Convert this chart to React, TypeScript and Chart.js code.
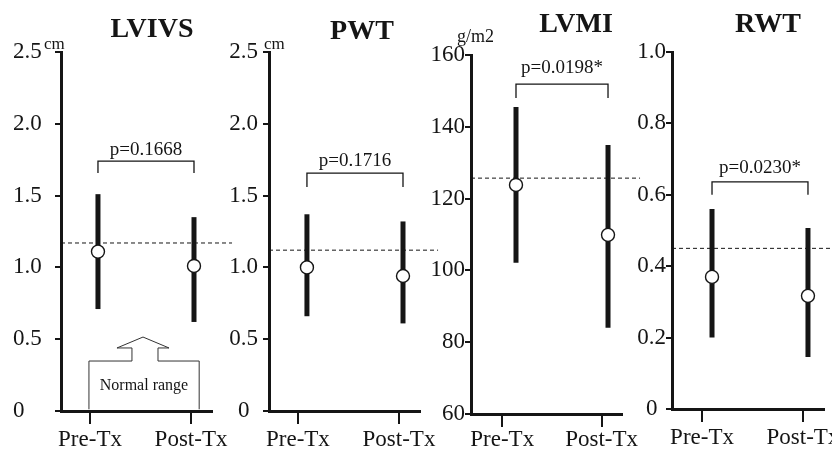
import React, { useEffect, useRef } from "react";
import { Chart, registerables } from "chart.js";
Chart.register(...registerables);

// ---------- data ----------
const CATEGORIES = ["Pre-Tx", "Post-Tx"];
const TITLES = ["LVIVS", "PWT", "LVMI", "RWT"];
const UNITS = ["cm", "cm", "g/m2", ""];
const P_VALUES = ["p=0.1668", "p=0.1716", "p=0.0198*", "p=0.0230*"];

const LVIVS_MEAN = [1.11, 1.01];
const LVIVS_UPPER = [1.51, 1.35];
const LVIVS_LOWER = [0.71, 0.62];

const PWT_MEAN = [1.0, 0.94];
const PWT_UPPER = [1.37, 1.32];
const PWT_LOWER = [0.66, 0.61];

const LVMI_MEAN = [123.8, 109.9];
const LVMI_UPPER = [145.5, 134.9];
const LVMI_LOWER = [102.1, 84.0];

const RWT_MEAN = [0.37, 0.317];
const RWT_UPPER = [0.56, 0.507];
const RWT_LOWER = [0.2, 0.146];

const NORMAL_LIMITS = [1.17, 1.12, 125.7, 0.45];

const Y_TICKS_CM = [0, 0.5, 1.0, 1.5, 2.0, 2.5];
const Y_LABELS_CM = ["0", "0.5", "1.0", "1.5", "2.0", "2.5"];
const Y_TICKS_LVMI = [60, 80, 100, 120, 140, 160];
const Y_LABELS_LVMI = ["60", "80", "100", "120", "140", "160"];
const Y_TICKS_RWT = [0, 0.2, 0.4, 0.6, 0.8, 1.0];
const Y_LABELS_RWT = ["0", "0.2", "0.4", "0.6", "0.8", "1.0"];

// bracket (value units of each panel's y axis)
const BRACKET_TOP = [1.74, 1.657, 151.9, 0.636];
const BRACKET_LEG = [1.657, 1.56, 148.0, 0.6];
const P_LABEL_Y = [1.785, 1.706, 155.0, 0.66];

// ---------- layout ----------
const W = 832;
const H = 453;
const FONT = "'Liberation Serif', 'Times New Roman', serif";
const INK = "#151515";

type PanelCfg = {
  idx: number;
  mean: number[];
  upper: number[];
  lower: number[];
  yTicks: number[];
  yLabels: string[];
  axisX: number;
  right: number;
  top: number;
  bottom: number;
  yWidth: number;
  xHeight: number;
  crossAlign: "near" | "center" | "far";
  yPad: number;
  xPad: number;
  xMin: number;
  xMax: number;
  dashEnd: number;
  tickPos: number[];
  titleX: number;
  titleY: number;
  unitX: number;
  unitY: number;
  unitSize: number;
  normalBox?: boolean;
};

const PANELS: PanelCfg[] = [
  {
    idx: 0, mean: LVIVS_MEAN, upper: LVIVS_UPPER, lower: LVIVS_LOWER,
    yTicks: Y_TICKS_CM, yLabels: Y_LABELS_CM,
    axisX: 61, right: 212, top: 52, bottom: 411, yWidth: 48, xHeight: 40,
    crossAlign: "far", yPad: 5, xPad: 2,
    xMin: -0.385, xMax: 1.1875, dashEnd: 1.396, tickPos: [-0.083, 0.969],
    titleX: 0.5625, titleY: 37, unitX: 44, unitY: 49, unitSize: 17, normalBox: true,
  },
  {
    idx: 1, mean: PWT_MEAN, upper: PWT_UPPER, lower: PWT_LOWER,
    yTicks: Y_TICKS_CM, yLabels: Y_LABELS_CM,
    axisX: 269, right: 420, top: 52, bottom: 411, yWidth: 60, xHeight: 40,
    crossAlign: "center", yPad: 5, xPad: 2,
    xMin: -0.395, xMax: 1.177, dashEnd: 1.365, tickPos: [-0.094, 0.958],
    titleX: 0.573, titleY: 39, unitX: 264, unitY: 49, unitSize: 17,
  },
  {
    idx: 2, mean: LVMI_MEAN, upper: LVMI_UPPER, lower: LVMI_LOWER,
    yTicks: Y_TICKS_LVMI, yLabels: Y_LABELS_LVMI,
    axisX: 471, right: 622, top: 55, bottom: 414, yWidth: 60, xHeight: 38,
    crossAlign: "near", yPad: 0, xPad: -1,
    xMin: -0.489, xMax: 1.152, dashEnd: 1.348, tickPos: [-0.15, 0.93],
    titleX: 0.652, titleY: 32, unitX: 457, unitY: 42, unitSize: 18,
  },
  {
    idx: 3, mean: RWT_MEAN, upper: RWT_UPPER, lower: RWT_LOWER,
    yTicks: Y_TICKS_RWT, yLabels: Y_LABELS_RWT,
    axisX: 672, right: 824, top: 52, bottom: 409, yWidth: 60, xHeight: 40,
    crossAlign: "center", yPad: 0, xPad: 2,
    xMin: -0.417, xMax: 1.167, dashEnd: 1.3, tickPos: [-0.104, 0.948],
    titleX: 0.583, titleY: 32, unitX: 0, unitY: 0, unitSize: 17,
  },
];

// "Normal range" callout in panel-1 value units
const NORMAL_BOX = {
  left: -0.094, right: 1.054, top: 0.348, bottom: 0.012,
  stemL: 0.354, stemR: 0.625, shoulderL: 0.198, shoulderR: 0.74,
  shoulderY: 0.439, apexX: 0.469, apexY: 0.515,
  textX: 0.479, textY: 0.174, label: "Normal range",
};

function makeAnnotations(cfg: PanelCfg) {
  return {
    id: "annot" + cfg.idx,
    afterDraw(chart: any) {
      const ctx = chart.ctx as CanvasRenderingContext2D;
      const xs = chart.scales.x;
      const ys = chart.scales.y;
      const i = cfg.idx;
      ctx.save();
      ctx.fillStyle = INK;
      ctx.strokeStyle = INK;
      // title
      ctx.font = `bold 28px ${FONT}`;
      ctx.textAlign = "center";
      ctx.textBaseline = "alphabetic";
      ctx.fillText(TITLES[i], xs.getPixelForValue(cfg.titleX), cfg.titleY);
      // unit
      if (UNITS[i]) {
        ctx.font = `${cfg.unitSize}px ${FONT}`;
        ctx.textAlign = "left";
        ctx.fillText(UNITS[i], cfg.unitX, cfg.unitY);
      }
      // bracket
      const x0 = xs.getPixelForValue(0);
      const x1 = xs.getPixelForValue(1);
      const yt = ys.getPixelForValue(BRACKET_TOP[i]);
      const yl = ys.getPixelForValue(BRACKET_LEG[i]);
      ctx.lineWidth = 1.3;
      ctx.beginPath();
      ctx.moveTo(x0, yl);
      ctx.lineTo(x0, yt);
      ctx.lineTo(x1, yt);
      ctx.lineTo(x1, yl);
      ctx.stroke();
      ctx.font = `19px ${FONT}`;
      ctx.textAlign = "center";
      ctx.fillText(P_VALUES[i], (x0 + x1) / 2, ys.getPixelForValue(P_LABEL_Y[i]));
      // normal range callout
      if (cfg.normalBox) {
        const b = NORMAL_BOX;
        const px = (v: number) => xs.getPixelForValue(v);
        const py = (v: number) => ys.getPixelForValue(v);
        ctx.lineWidth = 1;
        ctx.strokeStyle = "#333";
        ctx.beginPath();
        ctx.moveTo(px(b.left), py(b.bottom));
        ctx.lineTo(px(b.left), py(b.top));
        ctx.lineTo(px(b.stemL), py(b.top));
        ctx.lineTo(px(b.stemL), py(b.shoulderY));
        ctx.lineTo(px(b.shoulderL), py(b.shoulderY));
        ctx.lineTo(px(b.apexX), py(b.apexY));
        ctx.lineTo(px(b.shoulderR), py(b.shoulderY));
        ctx.lineTo(px(b.stemR), py(b.shoulderY));
        ctx.lineTo(px(b.stemR), py(b.top));
        ctx.lineTo(px(b.right), py(b.top));
        ctx.lineTo(px(b.right), py(b.bottom));
        ctx.stroke();
        ctx.font = `16px ${FONT}`;
        ctx.textBaseline = "middle";
        ctx.fillText(b.label, px(b.textX), py(b.textY));
      }
      ctx.restore();
    },
  };
}

function Panel({ cfg }: { cfg: PanelCfg }) {
  const ref = useRef<HTMLCanvasElement | null>(null);
  useEffect(() => {
    if (!ref.current) return;
    const datasets: any[] = [];
    datasets.push({
      type: "scatter",
      data: cfg.mean.map((m, k) => ({ x: k, y: m })),
      pointRadius: 6.5,
      pointHoverRadius: 6.5,
      pointBackgroundColor: "#ffffff",
      pointBorderColor: INK,
      pointBorderWidth: 1.4,
      showLine: false,
      order: 0,
    });
    cfg.mean.forEach((_, k) => {
      datasets.push({
        type: "line",
        data: [
          { x: k, y: cfg.lower[k] },
          { x: k, y: cfg.upper[k] },
        ],
        borderColor: INK,
        borderWidth: 5,
        pointRadius: 0,
        order: 1,
      });
    });
    datasets.push({
      type: "line",
      data: [
        { x: cfg.xMin, y: NORMAL_LIMITS[cfg.idx] },
        { x: cfg.dashEnd, y: NORMAL_LIMITS[cfg.idx] },
      ],
      borderColor: INK,
      borderWidth: 1,
      borderDash: [4, 3],
      pointRadius: 0,
      clip: false,
      order: 2,
    });

    const tickFont = { family: FONT, size: 23 };
    const chart = new Chart(ref.current, {
      type: "scatter",
      data: { datasets },
      options: {
        animation: false,
        responsive: false,
        devicePixelRatio: 1,
        events: [],
        layout: {
          autoPadding: false,
          padding: {
            left: cfg.axisX - cfg.yWidth,
            right: W - cfg.right,
            top: cfg.top,
            bottom: H - cfg.bottom - cfg.xHeight,
          },
        },
        plugins: { legend: { display: false }, tooltip: { enabled: false }, title: { display: false } },
        scales: {
          x: {
            type: "linear",
            min: cfg.xMin,
            max: cfg.xMax,
            afterBuildTicks: (s: any) => {
              s.ticks = cfg.tickPos.map((v) => ({ value: v }));
            },
            afterFit: (s: any) => {
              s.height = cfg.xHeight;
              s.paddingLeft = 0;
              s.paddingRight = 0;
            },
            ticks: {
              autoSkip: false,
              maxRotation: 0,
              padding: cfg.xPad,
              color: INK,
              font: tickFont,
              callback: (_v: any, i: number) => CATEGORIES[i],
            },
            grid: {
              display: true,
              drawOnChartArea: false,
              drawTicks: true,
              tickLength: 13,
              tickWidth: 2,
              tickColor: INK,
              lineWidth: 2,
              color: INK,
            },
            border: { display: true, width: 3, color: INK },
          },
          y: {
            type: "linear",
            min: cfg.yTicks[0],
            max: cfg.yTicks[cfg.yTicks.length - 1],
            afterBuildTicks: (s: any) => {
              s.ticks = cfg.yTicks.map((v) => ({ value: v }));
            },
            afterFit: (s: any) => {
              s.width = cfg.yWidth;
              s.paddingTop = 0;
              s.paddingBottom = 0;
            },
            ticks: {
              autoSkip: false,
              padding: cfg.yPad,
              crossAlign: cfg.crossAlign,
              color: INK,
              font: tickFont,
              callback: (_v: any, i: number) => cfg.yLabels[i],
            },
            grid: {
              display: true,
              drawOnChartArea: false,
              drawTicks: true,
              tickLength: 6,
              tickWidth: 2,
              tickColor: INK,
              lineWidth: 2,
              color: INK,
            },
            border: { display: true, width: 3, color: INK },
          },
        },
      } as any,
      plugins: [makeAnnotations(cfg)],
    });
    return () => chart.destroy();
  }, [cfg]);
  return (
    <canvas
      ref={ref}
      width={W}
      height={H}
      style={{ position: "absolute", left: 0, top: 0, width: W, height: H }}
    />
  );
}

export default function App() {
  return (
    <div
      style={{
        position: "fixed",
        left: 0,
        top: 0,
        width: W,
        height: H,
        background: "#ffffff",
        overflow: "hidden",
      }}
    >
      {PANELS.map((p) => (
        <Panel key={p.idx} cfg={p} />
      ))}
    </div>
  );
}
